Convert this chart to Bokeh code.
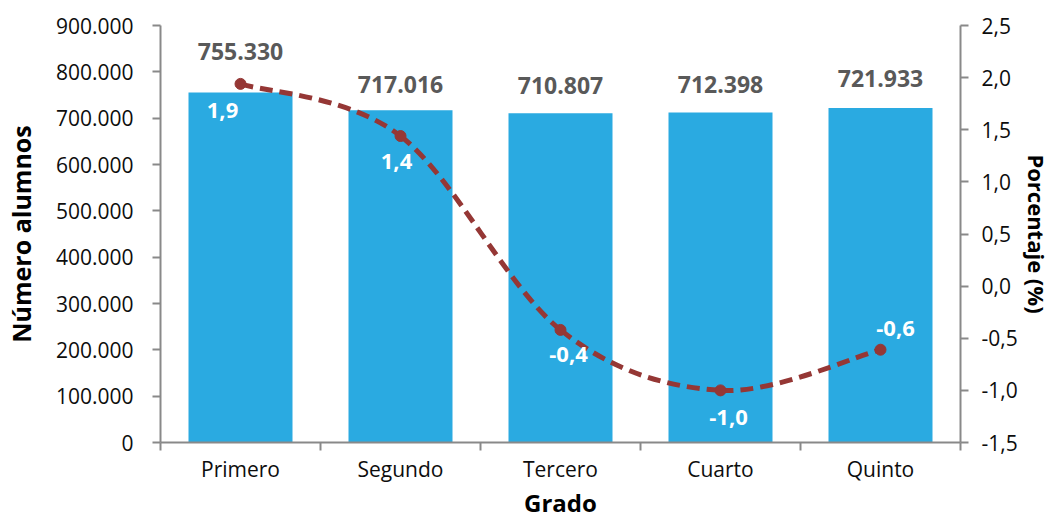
from bokeh.plotting import figure
from bokeh.models import Range1d, LinearAxis, FixedTicker, CustomJSTickFormatter, ColumnDataSource
from bokeh.embed import file_html
from bokeh.resources import INLINE
from bokeh.core.properties import value

# ---- data ----
categories = ["Primero", "Segundo", "Tercero", "Cuarto", "Quinto"]
alumnos = [755330, 717016, 710807, 712398, 721933]
porcentaje = [1.94, 1.44, -0.42, -1.00, -0.61]
left_ticks = [0, 100000, 200000, 300000, 400000, 500000, 600000, 700000, 800000, 900000]
right_ticks = [-1.5, -1.0, -0.5, 0.0, 0.5, 1.0, 1.5, 2.0, 2.5]

# ---- label styling (screen offsets) ----
bar_label_dy = [-41, -26, -28, -28, -30]
pct_label_dx = [-18, -4, 8, 8, 15]
pct_label_dy = [27, 25, 25, 27, -21]

FONT = "Open Sans"
BAR = "#2AAAE1"
LINE = "#953735"
AX = "#898989"

xs = [i + 0.5 for i in range(len(categories))]
bar_text = [f"{v:,}".replace(",", ".") for v in alumnos]
pct_text = [f"{v:.1f}".replace(".", ",") for v in porcentaje]

p = figure(width=1054, height=521, output_backend="svg", toolbar_location=None,
           x_range=Range1d(0, 5), y_range=Range1d(0, 900000),
           min_border_left=159, min_border_right=94, min_border_top=25, min_border_bottom=78)
p.extra_y_ranges = {"pct": Range1d(-1.5, 2.5)}
p.outline_line_color = None
p.xgrid.visible = False
p.ygrid.visible = False
p.background_fill_color = "white"
p.border_fill_color = "white"

src = ColumnDataSource(dict(x=xs, y=alumnos, t=bar_text, dy=bar_label_dy,
                            p=porcentaje, pt=pct_text, pdx=pct_label_dx, pdy=pct_label_dy))

p.vbar(x="x", top="y", width=0.65, source=src, fill_color=BAR, line_color=None)
p.text(x="x", y="y", text="t", y_offset="dy", source=src, text_align="center",
       text_baseline="alphabetic", text_font=value(FONT), text_font_style="bold",
       text_font_size="23px", text_color="#595959")

# smoothed line (Catmull-Rom style bezier through the data points)
n = len(xs)
bx0, by0, bx1, by1, c0x, c0y, c1x, c1y = [], [], [], [], [], [], [], []
for i in range(n - 1):
    a = max(i - 1, 0)
    d = min(i + 2, n - 1)
    bx0.append(xs[i]); by0.append(porcentaje[i])
    bx1.append(xs[i + 1]); by1.append(porcentaje[i + 1])
    c0x.append(xs[i] + (xs[i + 1] - xs[a]) / 6); c0y.append(porcentaje[i] + (porcentaje[i + 1] - porcentaje[a]) / 6)
    c1x.append(xs[i + 1] - (xs[d] - xs[i]) / 6); c1y.append(porcentaje[i + 1] - (porcentaje[d] - porcentaje[i]) / 6)
p.bezier(x0=bx0, y0=by0, x1=bx1, y1=by1, cx0=c0x, cy0=c0y, cx1=c1x, cy1=c1y,
         y_range_name="pct", line_color=LINE, line_width=5, line_dash="13 7")
p.scatter(x="x", y="p", source=src, y_range_name="pct", size=11, fill_color=LINE, line_color=LINE)
p.text(x="x", y="p", text="pt", x_offset="pdx", y_offset="pdy", source=src, y_range_name="pct",
       text_align="center", text_baseline="alphabetic", text_font=value(FONT),
       text_font_style="bold", text_font_size="22px", text_color="white")

def style_axis(ax):
    ax.axis_line_color = AX
    ax.axis_line_width = 2
    ax.major_tick_line_color = AX
    ax.major_tick_line_width = 2
    ax.major_tick_in = 0
    ax.major_tick_out = 8
    ax.minor_tick_line_color = None
    ax.major_label_text_font = FONT
    ax.major_label_text_font_size = "21px"
    ax.major_label_text_color = "#0d0d0d"
    ax.axis_label_text_font = FONT
    ax.axis_label_text_font_size = "24px"
    ax.axis_label_text_font_style = "bold"
    ax.axis_label_text_color = "black"

# left axis
ly = p.yaxis[0]
style_axis(ly)
ly.ticker = FixedTicker(ticks=left_ticks)
ly.formatter = CustomJSTickFormatter(code="return tick.toFixed(0).replace(/\\B(?=(\\d{3})+(?!\\d))/g, '.');")
ly.axis_label = "Número alumnos"
ly.axis_label_text_font_size = "25px"
ly.major_label_standoff = 19
ly.axis_label_standoff = 15

# right axis
ry = LinearAxis(y_range_name="pct")
style_axis(ry)
ry.ticker = FixedTicker(ticks=right_ticks)
ry.formatter = CustomJSTickFormatter(code="return tick.toFixed(1).replace('.', ',');")
ry.axis_label = "Porcentaje (%)"
ry.axis_label_text_font_size = "22px"
ry.major_label_standoff = 13
ry.axis_label_standoff = 1
p.add_layout(ry, "right")

# bottom axis
bx = p.xaxis[0]
style_axis(bx)
bx.ticker = FixedTicker(ticks=xs, minor_ticks=list(range(n + 1)))
bx.major_tick_out = 0
bx.minor_tick_line_color = AX
bx.minor_tick_line_width = 2
bx.minor_tick_in = 0
bx.minor_tick_out = 8
bx.formatter = CustomJSTickFormatter(args=dict(labels=categories), code="return labels[Math.floor(tick)];")
bx.axis_label = "Grado"
bx.major_label_standoff = 4
bx.axis_label_standoff = 0

open("out.html", "w").write(file_html(p, INLINE))
